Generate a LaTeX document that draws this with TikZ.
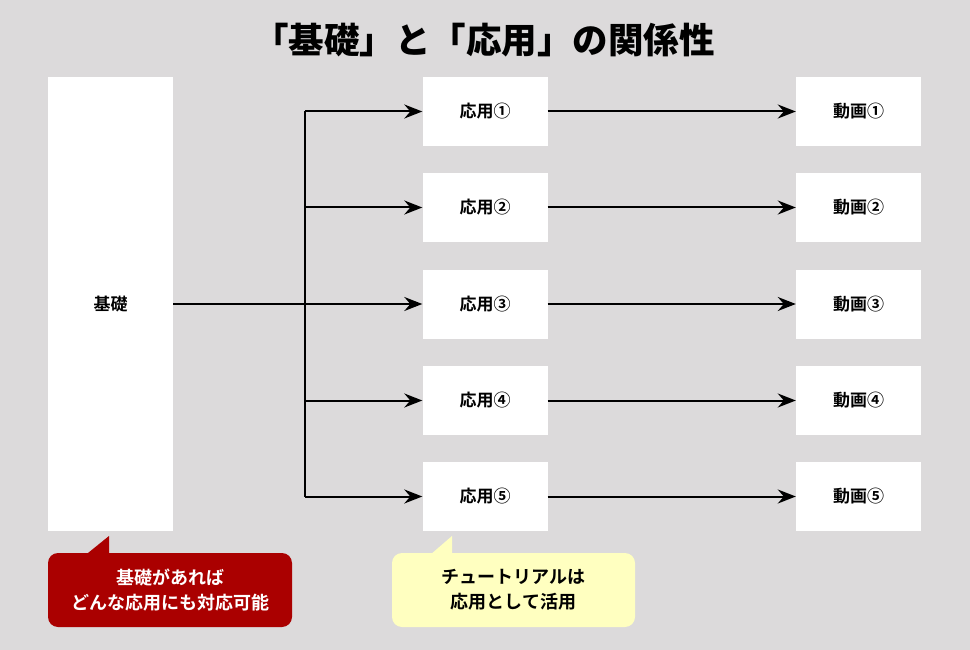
\documentclass[tikz,border=0pt]{standalone}
\usepackage{fontspec}
\setmainfont{Noto Sans CJK JP}[BoldFont={Noto Sans CJK JP Bold}]
\newfontfamily\heavyfont{Noto Sans CJK JP Black}
\usepackage{xcolor}
\usetikzlibrary{arrows.meta,positioning}

\definecolor{bggray}{RGB}{220,218,219}
\definecolor{notered}{RGB}{170,0,0}
\definecolor{noteyellow}{RGB}{255,255,192}

\begin{document}
\begin{tikzpicture}[x=1pt, y=-1pt,
  box/.style={fill=white, minimum width=125pt, minimum height=69pt,
    inner sep=0pt, font=\bfseries\fontsize{17}{19}\selectfont},
  link/.style={line width=2pt, -{Stealth[length=18pt,width=14pt,inset=6pt]}},
  note/.style={rounded corners=10pt, minimum width=244pt, minimum height=74pt,
    align=center, font=\bfseries\fontsize{18}{25}\selectfont}]
  \path[use as bounding box, fill=bggray] (0,0) rectangle (970,650);

  % title
  \node[font=\heavyfont\fontsize{35.5}{40}\selectfont] (title) at (484,40)
    {「基礎」と「応用」の関係性};

  % base block
  \node[box, minimum height=454pt] (kiso) at (110.5,304) {基礎};

  % applications
  \node[box] (app1) at (485,111.5) {応用①};
  \node[box] (app2) at (485,207.5) {応用②};
  \node[box] (app3) at (485,304) {応用③};
  \node[box] (app4) at (485,400.5) {応用④};
  \node[box] (app5) at (485,496.5) {応用⑤};

  % videos
  \node[box] (vid1) at (858.5,111.5) {動画①};
  \node[box] (vid2) at (858.5,207.5) {動画②};
  \node[box] (vid3) at (858.5,304) {動画③};
  \node[box] (vid4) at (858.5,400.5) {動画④};
  \node[box] (vid5) at (858.5,496.5) {動画⑤};

  % branching
  \coordinate (split) at (305,304);
  \draw[line width=2pt] (kiso.east) -- (split);
  \draw[line width=2pt] (split |- app1) -- (split |- app5);
  \draw[link] (split |- app1) -- (app1.west);
  \draw[link] (split |- app2) -- (app2.west);
  \draw[link] (split) -- (app3.west);
  \draw[link] (split |- app4) -- (app4.west);
  \draw[link] (split |- app5) -- (app5.west);

  \draw[link] (app1.east) -- (vid1.west);
  \draw[link] (app2.east) -- (vid2.west);
  \draw[link] (app3.east) -- (vid3.west);
  \draw[link] (app4.east) -- (vid4.west);
  \draw[link] (app5.east) -- (vid5.west);

  % callouts
  \fill[notered] (85.5,555) -- (109,536) -- (109,555) -- cycle;
  \node[note, fill=notered, text=white] (note1) at (170,590)
    {基礎があれば\\どんな応用にも対応可能};
  \fill[noteyellow] (430,555) -- (452,536) -- (452,555) -- cycle;
  \node[note, fill=noteyellow, minimum width=243pt] (note2) at (513.5,590)
    {チュートリアルは\\応用として活用};
\end{tikzpicture}
\end{document}
